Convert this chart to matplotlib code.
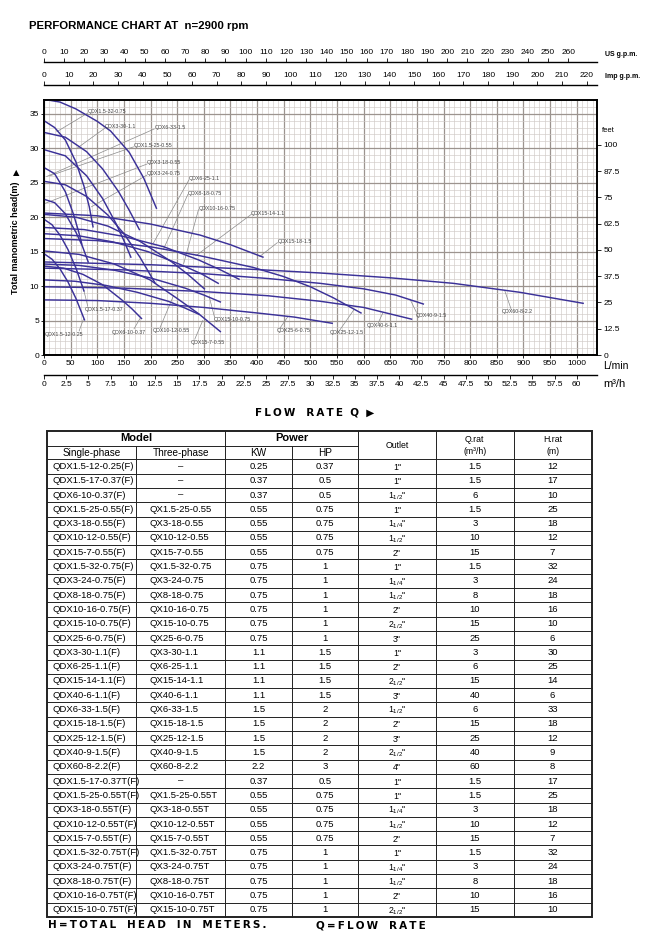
import matplotlib
matplotlib.use("Agg")
import matplotlib.pyplot as plt
from matplotlib.patches import Rectangle
from matplotlib.ticker import MultipleLocator, FuncFormatter

plt.rcParams["font.family"] = ["Liberation Sans", "DejaVu Sans"]
plt.rcParams["mathtext.default"] = "regular"

# Pump curves: (flow in L/min, head in m)
qdx6_33 = [(0, 37.1), (30, 36.7), (60, 35.7), (100, 33.9), (125, 32.5), (160, 29.4), (187, 25.7), (211, 21.3)]
qdx1_5_32 = [(0, 34.0), (20, 33.0), (40, 31.2), (60, 28.0), (75, 24.5), (85, 21.5), (92, 18.6)]
qdx3_30 = [(0, 32.3), (40, 31.6), (80, 29.5), (110, 27.0), (140, 23.7), (160, 21.0), (179, 18.2)]
qdx6_25 = [(0, 29.8), (40, 28.9), (80, 26.0), (110, 22.7), (135, 19.1), (150, 16.6), (163, 14.2)]
qdx1_5_25 = [(0, 27.2), (20, 26.3), (40, 23.7), (55, 20.5), (65, 17.9), (71, 16.1)]
qdx3_24 = [(0, 25.2), (40, 24.7), (80, 23.0), (120, 20.3), (150, 17.6), (180, 14.2), (208, 10.5)]
qdx3_18 = [(0, 22.6), (20, 22.1), (40, 20.5), (60, 17.8), (72, 15.8), (83, 13.5)]
qdx15_18 = [(0, 20.6), (100, 20.2), (200, 19.0), (293, 17.4), (350, 16.0), (411, 14.2)]
qdx8_18 = [(0, 20.4), (60, 20.0), (120, 18.7), (180, 16.5), (240, 13.5), (270, 11.7), (301, 9.6)]
qdx1_5_17 = [(0, 19.7), (15, 18.9), (30, 17.4), (45, 15.3), (60, 12.6), (75, 9.3)]
qdx15_14 = [(0, 18.5), (75, 18.2), (150, 17.2), (225, 15.7), (290, 13.8), (330, 12.4), (366, 11.0)]
qdx10_16 = [(0, 17.6), (65, 17.3), (130, 16.4), (195, 15.0), (260, 13.0), (295, 11.8), (327, 10.4)]
qdx25_12 = [(0, 16.9), (100, 16.6), (200, 15.7), (293, 14.4), (393, 12.7), (449, 11.4), (500, 9.9), (543, 8.3), (595, 6.1)]
qdx10_12 = [(0, 15.1), (66, 14.6), (132, 13.2), (199, 10.9), (250, 8.2), (290, 6.0), (331, 3.4)]
qdx1_5_12 = [(0, 14.7), (15, 13.9), (30, 12.5), (45, 10.6), (60, 8.2), (76, 5.1)]
qdx60_8 = [(0, 13.5), (200, 13.1), (400, 12.4), (518, 11.9), (650, 11.2), (768, 10.4), (893, 9.1), (1012, 7.5)]
qdx15_10 = [(0, 13.2), (66, 13.0), (132, 12.3), (199, 11.2), (265, 9.7), (300, 8.7), (331, 7.7)]
qdx6_10 = [(0, 12.9), (37, 12.6), (73, 11.7), (110, 10.2), (146, 8.0), (165, 6.7), (183, 5.3)]
qdx40_9 = [(0, 12.6), (150, 12.35), (300, 11.8), (420, 11.1), (518, 10.4), (600, 9.6), (660, 8.7), (712, 7.4)]
qdx15_7 = [(0, 10.9), (58, 10.7), (116, 10.1), (175, 9.1), (233, 7.8), (262, 6.9), (291, 5.9)]
qdx40_6 = [(0, 9.9), (150, 9.7), (300, 9.2), (420, 8.6), (518, 7.8), (600, 6.9), (690, 5.2)]
qdx25_6 = [(0, 8.0), (100, 7.9), (200, 7.5), (300, 6.9), (400, 6.1), (470, 5.5), (541, 4.6)]

curves = [qdx6_33, qdx1_5_32, qdx3_30, qdx6_25, qdx1_5_25, qdx3_24, qdx3_18, qdx15_18,
          qdx8_18, qdx1_5_17, qdx15_14, qdx10_16, qdx25_12, qdx10_12, qdx1_5_12, qdx60_8,
          qdx15_10, qdx6_10, qdx40_9, qdx15_7, qdx40_6, qdx25_6]

# curve names on the chart: text, text anchor, leader start, leader end
chart_labels = [
    ("QDX1.5-32-0.75", (82, 35.3), (82, 35.1), (24, 32.4)),
    ("QDX3-30-1.1", (114, 33.1), (114, 32.9), (62, 30.0)),
    ("QDX6-33-1.5", (207, 33.0), (207, 32.8), (5, 25.9)),
    ("QDX1.5-25-0.55", (168, 30.4), (168, 30.2), (11, 26.0)),
    ("QDX3-18-0.55", (193, 27.9), (193, 27.7), (2, 22.0)),
    ("QDX3-24-0.75", (193, 26.3), (193, 26.1), (89, 21.5)),
    ("QDX6-25-1.1", (272, 25.6), (272, 25.4), (205, 16.2)),
    ("QDX8-18-0.75", (270, 23.5), (270, 23.3), (224, 15.3)),
    ("QDX10-16-0.75", (290, 21.3), (290, 21.1), (262, 13.2)),
    ("QDX15-14-1.1", (389, 20.6), (389, 20.4), (285, 14.4)),
    ("QDX15-18-1.5", (438, 16.5), (438, 16.3), (405, 14.3)),
    ("QDX1.5-12-0.25", (2, 3.0), (66, 3.5), (74, 5.2)),
    ("QDX1.5-17-0.37", (76, 6.6), (82, 7.1), (75, 9.3)),
    ("QDX6-10-0.37", (128, 3.3), (169, 3.8), (181, 5.4)),
    ("QDX10-12-0.55", (205, 3.6), (218, 4.0), (243, 8.6)),
    ("QDX15-7-0.55", (275, 1.85), (283, 2.3), (298, 5.0)),
    ("QDX15-10-0.75", (318, 5.1), (320, 5.5), (310, 8.5)),
    ("QDX25-6-0.75", (437, 3.5), (443, 3.9), (458, 5.6)),
    ("QDX25-12-1.5", (537, 3.2), (555, 3.6), (582, 6.6)),
    ("QDX40-6-1.1", (605, 4.25), (627, 4.6), (636, 6.1)),
    ("QDX40-9-1.5", (697, 5.8), (699, 6.2), (687, 8.1)),
    ("QDX60-8-2.2", (860, 6.3), (877, 6.6), (865, 9.3)),
]

lmin_ticks = list(range(0, 1001, 50))
m3h_ticks = [i * 2.5 for i in range(25)]
usgpm_ticks = list(range(0, 261, 10))
impgpm_ticks = list(range(0, 221, 10))
head_ticks = list(range(0, 36, 5))
feet_ticks = [0, 12.5, 25, 37.5, 50, 62.5, 75, 87.5, 100]

# table
single_phase = ["QDX1.5-12-0.25(F)", "QDX1.5-17-0.37(F)", "QDX6-10-0.37(F)", "QDX1.5-25-0.55(F)",
                "QDX3-18-0.55(F)", "QDX10-12-0.55(F)", "QDX15-7-0.55(F)", "QDX1.5-32-0.75(F)",
                "QDX3-24-0.75(F)", "QDX8-18-0.75(F)", "QDX10-16-0.75(F)", "QDX15-10-0.75(F)",
                "QDX25-6-0.75(F)", "QDX3-30-1.1(F)", "QDX6-25-1.1(F)", "QDX15-14-1.1(F)",
                "QDX40-6-1.1(F)", "QDX6-33-1.5(F)", "QDX15-18-1.5(F)", "QDX25-12-1.5(F)",
                "QDX40-9-1.5(F)", "QDX60-8-2.2(F)", "QDX1.5-17-0.37T(F)", "QDX1.5-25-0.55T(F)",
                "QDX3-18-0.55T(F)", "QDX10-12-0.55T(F)", "QDX15-7-0.55T(F)", "QDX1.5-32-0.75T(F)",
                "QDX3-24-0.75T(F)", "QDX8-18-0.75T(F)", "QDX10-16-0.75T(F)", "QDX15-10-0.75T(F)"]
three_phase = ["–", "–", "–", "QX1.5-25-0.55", "QX3-18-0.55", "QX10-12-0.55", "QX15-7-0.55",
               "QX1.5-32-0.75", "QX3-24-0.75", "QX8-18-0.75", "QX10-16-0.75", "QX15-10-0.75",
               "QX25-6-0.75", "QX3-30-1.1", "QX6-25-1.1", "QX15-14-1.1", "QX40-6-1.1",
               "QX6-33-1.5", "QX15-18-1.5", "QX25-12-1.5", "QX40-9-1.5", "QX60-8-2.2", "–",
               "QX1.5-25-0.55T", "QX3-18-0.55T", "QX10-12-0.55T", "QX15-7-0.55T",
               "QX1.5-32-0.75T", "QX3-24-0.75T", "QX8-18-0.75T", "QX10-16-0.75T", "QX15-10-0.75T"]
kw = [0.25, 0.37, 0.37, 0.55, 0.55, 0.55, 0.55, 0.75, 0.75, 0.75, 0.75, 0.75, 0.75, 1.1, 1.1, 1.1,
      1.1, 1.5, 1.5, 1.5, 1.5, 2.2, 0.37, 0.55, 0.55, 0.55, 0.55, 0.75, 0.75, 0.75, 0.75, 0.75]
hp = [0.37, 0.5, 0.5, 0.75, 0.75, 0.75, 0.75, 1, 1, 1, 1, 1, 1, 1.5, 1.5, 1.5,
      1.5, 2, 2, 2, 2, 3, 0.5, 0.75, 0.75, 0.75, 0.75, 1, 1, 1, 1, 1]
outlet = ["1", "1", "1 1/2", "1", "1 1/4", "1 1/2", "2", "1", "1 1/4", "1 1/2", "2", "2 1/2",
          "3", "1", "2", "2 1/2", "3", "1 1/2", "2", "3", "2 1/2", "4", "1", "1", "1 1/4",
          "1 1/2", "2", "1", "1 1/4", "1 1/2", "2", "2 1/2"]
q_rat = [1.5, 1.5, 6, 1.5, 3, 10, 15, 1.5, 3, 8, 10, 15, 25, 3, 6, 15, 40, 6, 15, 25, 40, 60,
         1.5, 1.5, 3, 10, 15, 1.5, 3, 8, 10, 15]
h_rat = [12, 17, 10, 25, 18, 12, 7, 32, 24, 18, 16, 10, 6, 30, 25, 14, 6, 33, 18, 12, 9, 8,
         17, 25, 18, 12, 7, 32, 24, 18, 16, 10]

W, H = 650, 939
fig = plt.figure(figsize=(W / 100, H / 100), dpi=100)


def px_axes(x0, y0, x1, y1):
    return fig.add_axes([x0 / W, 1 - y1 / H, (x1 - x0) / W, (y1 - y0) / H])


def fx(x):
    return x / W


def fy(y):
    return 1 - y / H


fmt = FuncFormatter(lambda v, p: "%g" % v)

X0, X1, Y0, Y1 = 44, 597, 100, 355
QMAX, HMAX = 1038, 37.0

# main chart
ax = px_axes(X0, Y0, X1, Y1)
ax.set_xlim(0, QMAX)
ax.set_ylim(0, HMAX)
ax.set_xticks(lmin_ticks)
ax.set_yticks(head_ticks)
ax.xaxis.set_minor_locator(MultipleLocator(10))
ax.yaxis.set_minor_locator(MultipleLocator(1))
ax.grid(which="minor", color="#d0cac7", lw=0.45)
ax.grid(which="major", color="#9c948f", lw=0.9)
ax.set_axisbelow(True)
ax.tick_params(which="major", labelsize=6, length=2, width=0.6, pad=1.5)
ax.tick_params(which="minor", length=0)
for s in ax.spines.values():
    s.set_linewidth(1.2)

for pts in curves:
    q, h = zip(*pts)
    ax.plot(q, h, color="#3b3198", lw=1.05, zorder=3)

for text, (tx, ty), (lx0, ly0), (lx1, ly1) in chart_labels:
    ax.plot([lx0, lx1], [ly0, ly1], color="#8a8a8a", lw=0.5, zorder=2)
    ax.text(tx, ty, text, fontsize=3.8, color="#444444", ha="left", va="center", zorder=4)

# feet scale on the right
axr = ax.twinx()
axr.set_ylim(0, HMAX / 0.3048)
axr.set_yticks(feet_ticks)
axr.yaxis.set_major_formatter(fmt)
axr.tick_params(labelsize=6, length=3, width=0.6, pad=1.5)
for s in axr.spines.values():
    s.set_linewidth(1.2)
fig.text(fx(602), fy(130), "feet", fontsize=5.5, va="center")


def scale_axis(y, xmax, ticks, top):
    a = fig.add_axes([fx(X0), fy(y), (X1 - X0) / W, 1e-4])
    a.set_xlim(0, xmax)
    a.set_yticks([])
    a.set_xticks(ticks)
    a.xaxis.set_major_formatter(fmt)
    a.patch.set_alpha(0)
    for side in ("left", "right", "top", "bottom"):
        a.spines[side].set_visible(False)
    side = "top" if top else "bottom"
    a.spines[side].set_visible(True)
    a.spines[side].set_linewidth(1.0)
    if top:
        a.xaxis.tick_top()
    a.tick_params(axis="x", labelsize=6, length=3, width=0.6, pad=1.5, direction="out")
    return a


scale_axis(62.5, QMAX / 3.785, usgpm_ticks, True)
# imperial scale as drawn on the original sheet
scale_axis(85, QMAX / 4.63, impgpm_ticks, True)
scale_axis(375, QMAX * 0.06, m3h_ticks, False)

fig.text(fx(605), fy(55), "US g.p.m.", fontsize=5, weight="bold", va="center")
fig.text(fx(605), fy(77), "Imp g.p.m.", fontsize=5, weight="bold", va="center")
fig.text(fx(603), fy(366), "L/min", fontsize=7.5, va="center")
fig.text(fx(603), fy(384), "m³/h", fontsize=8, va="center")

fig.text(fx(16), fy(238), "Total manometric head(m)", rotation=90, fontsize=6.5,
         weight="bold", ha="center", va="center")
fig.text(fx(16), fy(173), "▲", fontsize=6, ha="center", va="center", family="DejaVu Sans")

fig.text(fx(29), fy(26), "PERFORMANCE CHART AT  n=2900 rpm", fontsize=8.2, weight="bold",
         va="center", family="Liberation Sans")


def spaced(s):
    return "\u2009".join(s)


fig.text(fx(315), fy(412), spaced("FLOW") + "   " + spaced("RATE") + "  Q  ▶", fontsize=7.5,
         weight="heavy", ha="center", va="center", family="DejaVu Sans")
fig.text(fx(47.5), fy(925), spaced("H=TOTAL") + "   " + spaced("HEAD") + "   " + spaced("IN") + "   "
         + spaced("METERS."), fontsize=7.5, weight="bold", va="center", family="DejaVu Sans")
fig.text(fx(316), fy(925), spaced("Q=FLOW") + "   " + spaced("RATE"), fontsize=7.5, weight="bold",
         va="center", family="DejaVu Sans")

# model table
TX = [47.4, 136.3, 225, 291.9, 358, 436, 513.6, 591.6]
TY0, TY1, TY2, TYB = 431, 445.7, 459.3, 917
axt = px_axes(TX[0], TY0, TX[-1], TYB)
axt.set_xlim(TX[0], TX[-1])
axt.set_ylim(TYB, TY0)
axt.axis("off")

n = len(single_phase)
rh = (TYB - TY2) / n
lk = dict(color="#222222", lw=0.7, clip_on=False)
for i in range(n):
    yy = TY2 + i * rh
    axt.plot([TX[0], TX[-1]], [yy, yy], **lk)
axt.plot([TX[0], TX[4]], [TY1, TY1], **lk)
for j in (2, 4, 5, 6):
    axt.plot([TX[j], TX[j]], [TY0, TYB], **lk)
for j in (1, 3):
    axt.plot([TX[j], TX[j]], [TY1, TYB], **lk)
axt.add_patch(Rectangle((TX[0], TY0), TX[-1] - TX[0], TYB - TY0, fill=False, lw=1.4,
                        ec="#222222", clip_on=False))


def cx(j):
    return (TX[j] + TX[j + 1]) / 2


axt.text((TX[0] + TX[2]) / 2, (TY0 + TY1) / 2, "Model", fontsize=8, weight="bold",
         ha="center", va="center")
axt.text((TX[2] + TX[4]) / 2, (TY0 + TY1) / 2, "Power", fontsize=8, weight="bold",
         ha="center", va="center")
for j, t in enumerate(["Single-phase", "Three-phase", "KW", "HP"]):
    axt.text(cx(j), (TY1 + TY2) / 2, t, fontsize=7.2, ha="center", va="center")
axt.text(cx(4), (TY0 + TY2) / 2, "Outlet", fontsize=6.3, ha="center", va="center")
axt.text(cx(5), 440, "Q.rat", fontsize=6.3, ha="center", va="center")
axt.text(cx(5), 451, "(m³/h)", fontsize=6.3, ha="center", va="center")
axt.text(cx(6), 440, "H.rat", fontsize=6.3, ha="center", va="center")
axt.text(cx(6), 451, "(m)", fontsize=6.3, ha="center", va="center")


def outlet_text(s):
    parts = s.split()
    if len(parts) == 2:
        return parts[0] + "$_{%s}$" % parts[1] + '"'
    return s + '"'


for i in range(n):
    yc = TY2 + (i + 0.5) * rh
    axt.text(TX[0] + 5, yc, single_phase[i], fontsize=6.8, ha="left", va="center")
    if three_phase[i] == "–":
        axt.text(cx(1), yc, "–", fontsize=6.8, ha="center", va="center")
    else:
        axt.text(TX[1] + 13.5, yc, three_phase[i], fontsize=6.8, ha="left", va="center")
    axt.text(cx(2), yc, "%g" % kw[i], fontsize=6.8, ha="center", va="center")
    axt.text(cx(3), yc, "%g" % hp[i], fontsize=6.8, ha="center", va="center")
    axt.text(cx(4), yc + 1, outlet_text(outlet[i]), fontsize=6.3, ha="center", va="center")
    axt.text(cx(5), yc, "%g" % q_rat[i], fontsize=6.8, ha="center", va="center")
    axt.text(cx(6), yc, "%g" % h_rat[i], fontsize=6.8, ha="center", va="center")

fig.savefig("out.png", dpi=100)
